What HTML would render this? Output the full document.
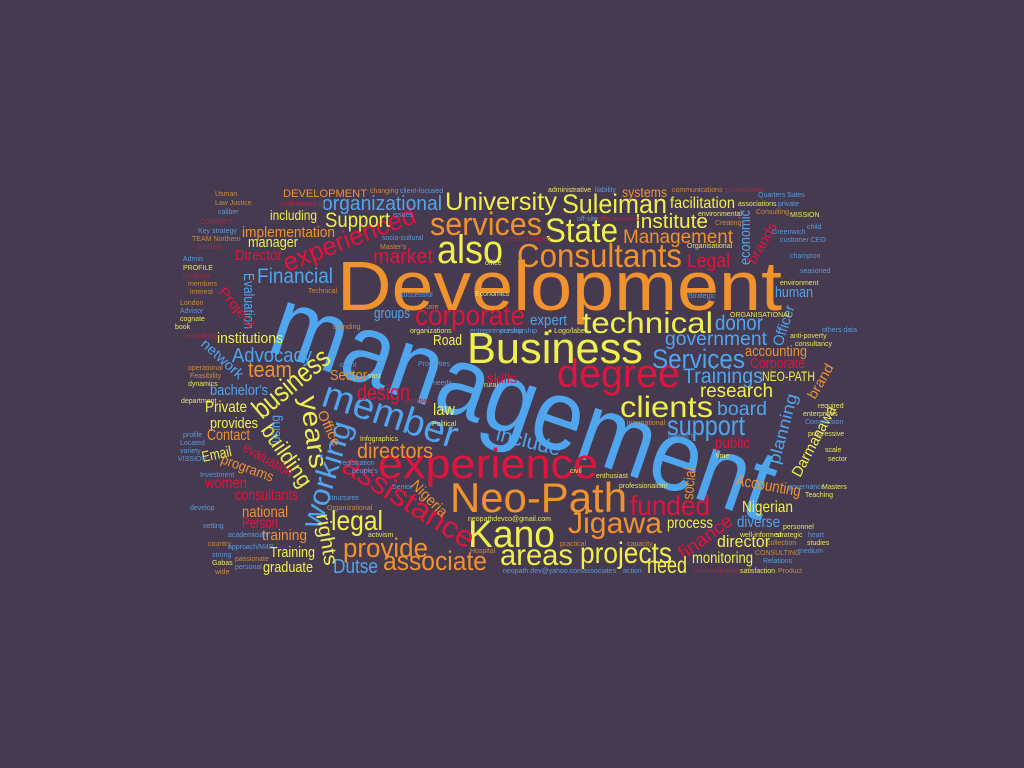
<!DOCTYPE html>
<html><head><meta charset="utf-8"><style>
html,body{margin:0;padding:0;background:#463a50;}
svg{display:block;}
text{font-family:"Liberation Sans",sans-serif;}
.O{fill:#f0922e}.B{fill:#4fa6ee}.R{fill:#e0143c}.Y{fill:#f0f04c}.D{fill:#a02a48}.o{fill:#c98a3c}.b{fill:#5a9ad8}.y{fill:#e6e65a}
</style></head><body>
<svg width="1024" height="768" viewBox="0 0 1024 768" xmlns="http://www.w3.org/2000/svg">
<rect width="1024" height="768" fill="#463a50"/>
<g>
<text class="O" x="337" y="310" font-size="70" textLength="445" lengthAdjust="spacingAndGlyphs">Development</text>
<text class="B" x="265" y="350" font-size="100" textLength="525" lengthAdjust="spacingAndGlyphs" transform="rotate(19,265,350)">management</text>
<text class="Y" x="467" y="363" font-size="44" textLength="176" lengthAdjust="spacingAndGlyphs">Business</text>
<text class="R" x="557" y="387" font-size="40" textLength="123" lengthAdjust="spacingAndGlyphs">degree</text>
<text class="R" x="378" y="478" font-size="42" textLength="220" lengthAdjust="spacingAndGlyphs">experience</text>
<text class="O" x="450" y="512" font-size="42" textLength="177" lengthAdjust="spacingAndGlyphs">Neo-Path</text>
<text class="Y" x="468" y="547" font-size="38" textLength="87" lengthAdjust="spacingAndGlyphs">Kano</text>
<text class="Y" x="437" y="263" font-size="40" textLength="66" lengthAdjust="spacingAndGlyphs">also</text>
<text class="O" x="430" y="235" font-size="32" textLength="112" lengthAdjust="spacingAndGlyphs">services</text>
<text class="Y" x="445" y="210" font-size="25" textLength="112" lengthAdjust="spacingAndGlyphs">University</text>
<text class="Y" x="562" y="213" font-size="27" textLength="105" lengthAdjust="spacingAndGlyphs">Suleiman</text>
<text class="Y" x="545" y="242" font-size="34" textLength="73" lengthAdjust="spacingAndGlyphs">State</text>
<text class="O" x="517" y="267" font-size="33" textLength="165" lengthAdjust="spacingAndGlyphs">Consultants</text>
<text class="Y" x="582" y="333" font-size="30" textLength="131" lengthAdjust="spacingAndGlyphs">technical</text>
<text class="R" x="415" y="325" font-size="29" textLength="110" lengthAdjust="spacingAndGlyphs">corporate</text>
<text class="R" x="287" y="272" font-size="26" textLength="140" lengthAdjust="spacingAndGlyphs" transform="rotate(-21,287,272)">experienced</text>
<text class="B" x="322" y="210" font-size="20" textLength="120" lengthAdjust="spacingAndGlyphs">organizational</text>
<text class="O" x="283" y="197" font-size="11" textLength="84" lengthAdjust="spacingAndGlyphs">DEVELOPMENT</text>
<text class="Y" x="270" y="220" font-size="14" textLength="47" lengthAdjust="spacingAndGlyphs">including</text>
<text class="Y" x="325" y="227" font-size="21" textLength="65" lengthAdjust="spacingAndGlyphs">Support</text>
<text class="O" x="242" y="237" font-size="15" textLength="93" lengthAdjust="spacingAndGlyphs">implementation</text>
<text class="Y" x="248" y="247" font-size="15" textLength="50" lengthAdjust="spacingAndGlyphs">manager</text>
<text class="R" x="235" y="260" font-size="15" textLength="47" lengthAdjust="spacingAndGlyphs">Director</text>
<text class="R" x="373" y="263" font-size="20" textLength="60" lengthAdjust="spacingAndGlyphs">market</text>
<text class="B" x="257" y="283" font-size="21" textLength="76" lengthAdjust="spacingAndGlyphs">Financial</text>
<text class="B" x="244" y="273" font-size="15" textLength="56" lengthAdjust="spacingAndGlyphs" transform="rotate(90,244,273)">Evaluation</text>
<text class="R" x="218" y="292" font-size="14" textLength="48" lengthAdjust="spacingAndGlyphs" transform="rotate(50,218,292)">Project</text>
<text class="B" x="374" y="318" font-size="15" textLength="36" lengthAdjust="spacingAndGlyphs">groups</text>
<text class="Y" x="217" y="343" font-size="15" textLength="66" lengthAdjust="spacingAndGlyphs">institutions</text>
<text class="B" x="200" y="345" font-size="14" textLength="52" lengthAdjust="spacingAndGlyphs" transform="rotate(42,200,345)">network</text>
<text class="B" x="232" y="362" font-size="20" textLength="80" lengthAdjust="spacingAndGlyphs">Advocacy</text>
<text class="O" x="248" y="377" font-size="22" textLength="44" lengthAdjust="spacingAndGlyphs">team</text>
<text class="B" x="210" y="395" font-size="15" textLength="58" lengthAdjust="spacingAndGlyphs">bachelor's</text>
<text class="Y" x="433" y="345" font-size="15" textLength="29" lengthAdjust="spacingAndGlyphs">Road</text>
<text class="O" x="330" y="380" font-size="15" textLength="37" lengthAdjust="spacingAndGlyphs">Sector</text>
<text class="B" x="320" y="405" font-size="38" textLength="140" lengthAdjust="spacingAndGlyphs" transform="rotate(18,320,405)">member</text>
<text class="R" x="357" y="400" font-size="22" textLength="53" lengthAdjust="spacingAndGlyphs">design</text>
<text class="R" x="487" y="383" font-size="14" textLength="30" lengthAdjust="spacingAndGlyphs">skills</text>
<text class="B" x="530" y="325" font-size="15" textLength="37" lengthAdjust="spacingAndGlyphs">expert</text>
<text class="O" x="622" y="197" font-size="14" textLength="45" lengthAdjust="spacingAndGlyphs">systems</text>
<text class="Y" x="670" y="208" font-size="16" textLength="65" lengthAdjust="spacingAndGlyphs">facilitation</text>
<text class="Y" x="635" y="228" font-size="20" textLength="73" lengthAdjust="spacingAndGlyphs">Institute</text>
<text class="O" x="623" y="243" font-size="19" textLength="110" lengthAdjust="spacingAndGlyphs">Management</text>
<text class="R" x="687" y="267" font-size="19" textLength="43" lengthAdjust="spacingAndGlyphs">Legal</text>
<text class="B" x="750" y="265" font-size="15" textLength="55" lengthAdjust="spacingAndGlyphs" transform="rotate(-90,750,265)">economic</text>
<text class="R" x="755" y="265" font-size="14" textLength="45" lengthAdjust="spacingAndGlyphs" transform="rotate(-60,755,265)">brands</text>
<text class="B" x="775" y="297" font-size="15" textLength="38" lengthAdjust="spacingAndGlyphs">human</text>
<text class="B" x="715" y="330" font-size="21" textLength="48" lengthAdjust="spacingAndGlyphs">donor</text>
<text class="B" x="782" y="347" font-size="15" textLength="42" lengthAdjust="spacingAndGlyphs" transform="rotate(-72,782,347)">Officer</text>
<text class="B" x="665" y="345" font-size="19" textLength="102" lengthAdjust="spacingAndGlyphs">government</text>
<text class="O" x="745" y="356" font-size="15" textLength="62" lengthAdjust="spacingAndGlyphs">accounting</text>
<text class="B" x="652" y="368" font-size="27" textLength="93" lengthAdjust="spacingAndGlyphs">Services</text>
<text class="R" x="750" y="368" font-size="15" textLength="55" lengthAdjust="spacingAndGlyphs">Corporate</text>
<text class="B" x="683" y="383" font-size="21" textLength="80" lengthAdjust="spacingAndGlyphs">Trainings</text>
<text class="Y" x="762" y="381" font-size="14" textLength="53" lengthAdjust="spacingAndGlyphs">NEO-PATH</text>
<text class="Y" x="620" y="417" font-size="30" textLength="93" lengthAdjust="spacingAndGlyphs">clients</text>
<text class="Y" x="700" y="397" font-size="19" textLength="73" lengthAdjust="spacingAndGlyphs">research</text>
<text class="B" x="717" y="415" font-size="19" textLength="50" lengthAdjust="spacingAndGlyphs">board</text>
<text class="B" x="667" y="435" font-size="28" textLength="78" lengthAdjust="spacingAndGlyphs">support</text>
<text class="Y" x="433" y="415" font-size="17" textLength="22" lengthAdjust="spacingAndGlyphs">law</text>
<text class="B" x="495" y="440" font-size="20" textLength="66" lengthAdjust="spacingAndGlyphs" transform="rotate(14,495,440)">include</text>
<text class="O" x="357" y="458" font-size="21" textLength="76" lengthAdjust="spacingAndGlyphs">directors</text>
<text class="R" x="715" y="448" font-size="16" textLength="35" lengthAdjust="spacingAndGlyphs">public</text>
<text class="B" x="779" y="465" font-size="17" textLength="72" lengthAdjust="spacingAndGlyphs" transform="rotate(-75,779,465)">planning</text>
<text class="Y" x="800" y="478" font-size="15" textLength="78" lengthAdjust="spacingAndGlyphs" transform="rotate(-62,800,478)">Darmanawa</text>
<text class="O" x="815" y="400" font-size="14" textLength="38" lengthAdjust="spacingAndGlyphs" transform="rotate(-60,815,400)">brand</text>
<text class="R" x="630" y="515" font-size="28" textLength="80" lengthAdjust="spacingAndGlyphs">funded</text>
<text class="O" x="568" y="533" font-size="30" textLength="94" lengthAdjust="spacingAndGlyphs">Jigawa</text>
<text class="O" x="693" y="500" font-size="16" textLength="32" lengthAdjust="spacingAndGlyphs" transform="rotate(-85,693,500)">social</text>
<text class="O" x="735" y="485" font-size="16" textLength="66" lengthAdjust="spacingAndGlyphs" transform="rotate(10,735,485)">Accounting</text>
<text class="Y" x="742" y="512" font-size="16" textLength="51" lengthAdjust="spacingAndGlyphs">Nigerian</text>
<text class="B" x="737" y="527" font-size="16" textLength="43" lengthAdjust="spacingAndGlyphs">diverse</text>
<text class="Y" x="667" y="528" font-size="16" textLength="46" lengthAdjust="spacingAndGlyphs">process</text>
<text class="Y" x="717" y="547" font-size="17" textLength="53" lengthAdjust="spacingAndGlyphs">director</text>
<text class="R" x="684" y="560" font-size="19" textLength="62" lengthAdjust="spacingAndGlyphs" transform="rotate(-36,684,560)">finance</text>
<text class="Y" x="692" y="563" font-size="16" textLength="61" lengthAdjust="spacingAndGlyphs">monitoring</text>
<text class="Y" x="647" y="573" font-size="23" textLength="40" lengthAdjust="spacingAndGlyphs">need</text>
<text class="Y" x="500" y="565" font-size="30" textLength="73" lengthAdjust="spacingAndGlyphs">areas</text>
<text class="Y" x="580" y="563" font-size="30" textLength="92" lengthAdjust="spacingAndGlyphs">projects</text>
<text class="Y" x="331" y="530" font-size="28" textLength="52" lengthAdjust="spacingAndGlyphs">legal</text>
<text class="R" x="340" y="470" font-size="30" textLength="150" lengthAdjust="spacingAndGlyphs" transform="rotate(32,340,470)">assistance</text>
<text class="O" x="410" y="486" font-size="15" textLength="45" lengthAdjust="spacingAndGlyphs" transform="rotate(45,410,486)">Nigeria</text>
<text class="O" x="343" y="557" font-size="27" textLength="85" lengthAdjust="spacingAndGlyphs">provide</text>
<text class="O" x="383" y="570" font-size="27" textLength="104" lengthAdjust="spacingAndGlyphs">associate</text>
<text class="B" x="333" y="573" font-size="20" textLength="45" lengthAdjust="spacingAndGlyphs">Dutse</text>
<text class="Y" x="300" y="397" font-size="26" textLength="73" lengthAdjust="spacingAndGlyphs" transform="rotate(82,300,397)">years</text>
<text class="B" x="320" y="530" font-size="30" textLength="110" lengthAdjust="spacingAndGlyphs" transform="rotate(-73,320,530)">working</text>
<text class="Y" x="262" y="420" font-size="28" textLength="92" lengthAdjust="spacingAndGlyphs" transform="rotate(-40,262,420)">business</text>
<text class="Y" x="260" y="430" font-size="22" textLength="72" lengthAdjust="spacingAndGlyphs" transform="rotate(55,260,430)">building</text>
<text class="Y" x="316" y="515" font-size="20" textLength="52" lengthAdjust="spacingAndGlyphs" transform="rotate(80,316,515)">rights</text>
<text class="O" x="317" y="413" font-size="14" textLength="38" lengthAdjust="spacingAndGlyphs" transform="rotate(65,317,413)">Office</text>
<text class="B" x="280" y="443" font-size="14" textLength="28" lengthAdjust="spacingAndGlyphs" transform="rotate(-90,280,443)">using</text>
<text class="R" x="242" y="450" font-size="14" textLength="55" lengthAdjust="spacingAndGlyphs" transform="rotate(30,242,450)">evaluation</text>
<text class="O" x="220" y="463" font-size="14" textLength="55" lengthAdjust="spacingAndGlyphs" transform="rotate(20,220,463)">programs</text>
<text class="Y" x="205" y="412" font-size="16" textLength="42" lengthAdjust="spacingAndGlyphs">Private</text>
<text class="Y" x="210" y="428" font-size="15" textLength="48" lengthAdjust="spacingAndGlyphs">provides</text>
<text class="O" x="207" y="440" font-size="16" textLength="43" lengthAdjust="spacingAndGlyphs">Contact</text>
<text class="Y" x="203" y="462" font-size="15" textLength="30" lengthAdjust="spacingAndGlyphs" transform="rotate(-12,203,462)">Email</text>
<text class="R" x="205" y="488" font-size="16" textLength="42" lengthAdjust="spacingAndGlyphs">women</text>
<text class="R" x="235" y="500" font-size="16" textLength="63" lengthAdjust="spacingAndGlyphs">consultants</text>
<text class="O" x="242" y="517" font-size="16" textLength="46" lengthAdjust="spacingAndGlyphs">national</text>
<text class="R" x="242" y="528" font-size="16" textLength="36" lengthAdjust="spacingAndGlyphs">Person</text>
<text class="O" x="262" y="540" font-size="15" textLength="45" lengthAdjust="spacingAndGlyphs">training</text>
<text class="Y" x="270" y="557" font-size="15" textLength="45" lengthAdjust="spacingAndGlyphs">Training</text>
<text class="Y" x="263" y="572" font-size="15" textLength="50" lengthAdjust="spacingAndGlyphs">graduate</text>
</g>
<g font-size="7">
<text class="o" x="215" y="196">Usman</text>
<text class="o" x="215" y="205">Law Justice</text>
<text class="b" x="218" y="214">caliber</text>
<text class="D" x="200" y="224">CONTACT</text>
<text class="b" x="198" y="233">Key  strategy</text>
<text class="o" x="192" y="241">TEAM  Northern</text>
<text class="D" x="198" y="249">Studies</text>
<text class="b" x="183" y="261">Admin</text>
<text class="y" x="183" y="270">PROFILE</text>
<text class="D" x="183" y="278">program</text>
<text class="o" x="188" y="286">members</text>
<text class="o" x="190" y="294">interest</text>
<text class="o" x="180" y="305">London</text>
<text class="b" x="180" y="313">Advisor</text>
<text class="y" x="180" y="321">cognate</text>
<text class="y" x="175" y="329">book</text>
<text class="D" x="183" y="338">networking</text>
<text class="o" x="188" y="370">operational</text>
<text class="o" x="190" y="378">Feasibility</text>
<text class="y" x="188" y="386">dynamics</text>
<text class="y" x="181" y="403">department</text>
<text class="b" x="183" y="437">profile</text>
<text class="b" x="180" y="445">Located</text>
<text class="b" x="180" y="453">variety</text>
<text class="b" x="178" y="461">VISSION</text>
<text class="b" x="200" y="477">Investment</text>
<text class="b" x="190" y="510">develop</text>
<text class="b" x="203" y="528">setting</text>
<text class="b" x="228" y="537">academician</text>
<text class="o" x="208" y="546">country</text>
<text class="b" x="228" y="549">approach/M4P</text>
<text class="b" x="212" y="557">strong</text>
<text class="o" x="235" y="561">passionate</text>
<text class="y" x="212" y="565">Gabas</text>
<text class="b" x="235" y="569">personal</text>
<text class="o" x="215" y="574">wide</text>
<text class="o" x="370" y="193">changing</text>
<text class="b" x="400" y="193">client-focused</text>
<text class="D" x="280" y="206">understanding</text>
<text class="y" x="548" y="192">administrative</text>
<text class="b" x="595" y="192">liability</text>
<text class="o" x="672" y="192">communications</text>
<text class="D" x="725" y="192">cooperatives</text>
<text class="b" x="758" y="197">Quarters  Sales</text>
<text class="y" x="738" y="206">associations</text>
<text class="b" x="778" y="206">private</text>
<text class="y" x="698" y="216">environmental</text>
<text class="o" x="756" y="214">Consulting</text>
<text class="y" x="790" y="217">MISSION</text>
<text class="o" x="715" y="225">Creating</text>
<text class="b" x="772" y="234">Greenwich</text>
<text class="b" x="807" y="229">child</text>
<text class="b" x="780" y="242">customer   CEO</text>
<text class="b" x="790" y="258">champion</text>
<text class="b" x="800" y="273">seasoned</text>
<text class="y" x="780" y="285">environment</text>
<text class="y" x="730" y="317">ORGANISATIONAL</text>
<text class="y" x="790" y="338">anti-poverty</text>
<text class="y" x="795" y="346">consultancy</text>
<text class="b" x="822" y="332">others  data</text>
<text class="b" x="805" y="424">Commission</text>
<text class="y" x="808" y="436">progressive</text>
<text class="y" x="803" y="416">enterprises</text>
<text class="y" x="818" y="408">required</text>
<text class="y" x="825" y="452">scale</text>
<text class="y" x="828" y="461">sector</text>
<text class="b" x="788" y="489">governance</text>
<text class="y" x="822" y="489">Masters</text>
<text class="y" x="805" y="497">Teaching</text>
<text class="y" x="783" y="529">personnel</text>
<text class="y" x="740" y="537">well-informed</text>
<text class="y" x="776" y="537">strategic</text>
<text class="b" x="808" y="537">heart</text>
<text class="o" x="767" y="545">collection</text>
<text class="y" x="807" y="545">studies</text>
<text class="o" x="755" y="555">CONSULTING</text>
<text class="b" x="798" y="553">medium</text>
<text class="b" x="763" y="563">Relations</text>
<text class="y" x="740" y="573">satisfaction</text>
<text class="o" x="778" y="573">Product</text>
<text class="D" x="693" y="573">communication</text>
<text class="b" x="583" y="573">associates</text>
<text class="b" x="623" y="573">action</text>
<text class="b" x="503" y="573">neopath.dev@yahoo.com</text>
<text class="y" x="468" y="521">neopathdevco@gmail.com</text>
<text class="y" x="619" y="488">professionalism</text>
<text class="y" x="596" y="478">enthusiast</text>
<text class="y" x="570" y="473">civil</text>
<text class="o" x="627" y="546">capacity</text>
<text class="o" x="560" y="546">practical</text>
<text class="o" x="627" y="425">international</text>
<text class="b" x="668" y="438">master's</text>
<text class="y" x="716" y="458">time</text>
<text class="y" x="360" y="441">Infographics</text>
<text class="y" x="432" y="426">Political</text>
<text class="b" x="340" y="465">registration</text>
<text class="b" x="352" y="473">people's</text>
<text class="b" x="392" y="489">Senior</text>
<text class="b" x="328" y="500">structures</text>
<text class="o" x="327" y="510">Organizational</text>
<text class="y" x="368" y="537">activism</text>
<text class="o" x="470" y="553">Hospital</text>
<text class="y" x="410" y="333">organizations</text>
<text class="b" x="470" y="333">entrepreneurship</text>
<text class="y" x="548" y="333">● Logo/label</text>
<text class="b" x="418" y="366">Properties</text>
<text class="b" x="340" y="367">client</text>
<text class="y" x="368" y="378">vast</text>
<text class="b" x="433" y="385">needs</text>
<text class="y" x="484" y="387">rural</text>
<text class="D" x="403" y="403">identities</text>
<text class="o" x="333" y="329">branding</text>
<text class="b" x="400" y="297">successful</text>
<text class="y" x="475" y="296">Economics</text>
<text class="o" x="308" y="293">Technical</text>
<text class="o" x="425" y="309">core</text>
<text class="b" x="393" y="217">issues</text>
<text class="b" x="382" y="240">socio-cultural</text>
<text class="o" x="380" y="249">Master's</text>
<text class="y" x="485" y="265">office</text>
<text class="b" x="688" y="298">Strategic</text>
<text class="y" x="687" y="248">Organisational</text>
<text class="b" x="577" y="221">off-site</text>
<text class="D" x="598" y="221">effectiveness</text>
<text class="D" x="505" y="241">methodologies</text>
<text class="b" x="500" y="333">preneurship</text>
</g>
</svg>
</body></html>
